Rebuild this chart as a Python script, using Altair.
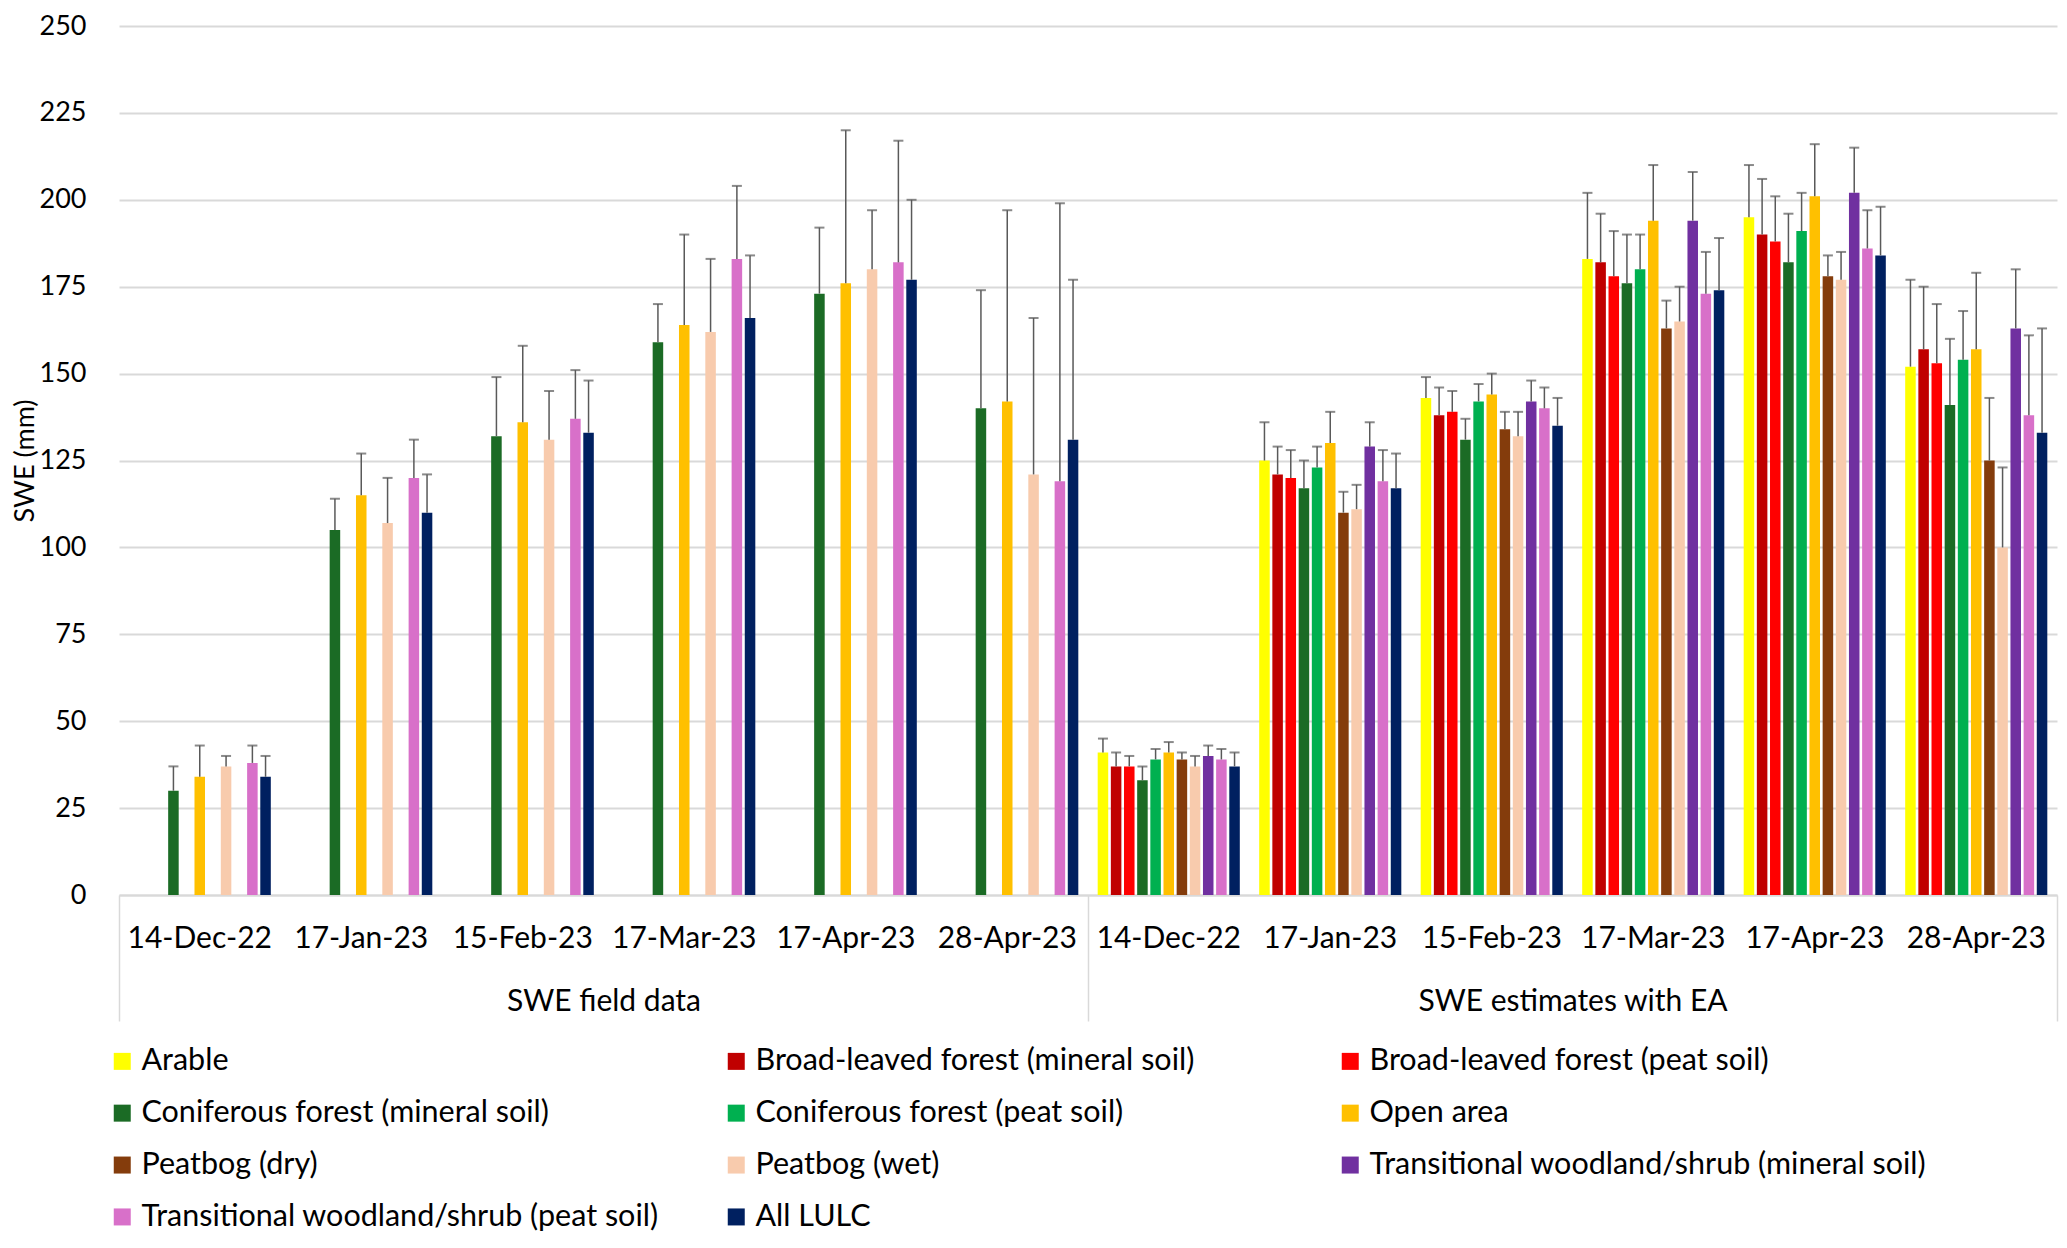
import altair as alt
import pandas as pd

# ---------------- data ----------------
dates = ["14-Dec-22", "17-Jan-23", "15-Feb-23", "17-Mar-23", "17-Apr-23", "28-Apr-23"]
sources = ["SWE field data", "SWE estimates with EA"]

series = [
    "Arable",
    "Broad-leaved forest (mineral soil)",
    "Broad-leaved forest (peat soil)",
    "Coniferous forest (mineral soil)",
    "Coniferous forest (peat soil)",
    "Open area",
    "Peatbog (dry)",
    "Peatbog (wet)",
    "Transitional woodland/shrub (mineral soil)",
    "Transitional woodland/shrub (peat soil)",
    "All LULC",
]
colors = ["#FFFF00", "#C00000", "#FF0000", "#1B6B25", "#00B050", "#FFC000",
          "#843C0C", "#F8CBAD", "#7030A0", "#D870C9", "#002060"]

# SWE field data (only five classes were sampled)
field_series = [
    "Coniferous forest (mineral soil)",
    "Open area",
    "Peatbog (wet)",
    "Transitional woodland/shrub (peat soil)",
    "All LULC",
]
field_mean = [
    [30, 105, 132, 159, 173, 140],
    [34, 115, 136, 164, 176, 142],
    [37, 107, 131, 162, 180, 121],
    [38, 120, 137, 183, 182, 119],
    [34, 110, 133, 166, 177, 131],
]
field_sd = [
    [7, 9, 17, 11, 19, 34],
    [9, 12, 22, 26, 44, 55],
    [3, 13, 14, 21, 17, 45],
    [5, 11, 14, 21, 35, 80],
    [6, 11, 15, 18, 23, 46],
]

# SWE estimates with EA (all eleven classes)
ea_mean = [
    [41, 125, 143, 183, 195, 152],
    [37, 121, 138, 182, 190, 157],
    [37, 120, 139, 178, 188, 153],
    [33, 117, 131, 176, 182, 141],
    [39, 123, 142, 180, 191, 154],
    [41, 130, 144, 194, 201, 157],
    [39, 110, 134, 163, 178, 125],
    [37, 111, 132, 165, 177, 100],
    [40, 129, 142, 194, 202, 163],
    [39, 119, 140, 173, 186, 138],
    [37, 117, 135, 174, 184, 133],
]
ea_sd = [
    [4, 11, 6, 19, 15, 25],
    [4, 8, 8, 14, 16, 18],
    [3, 8, 6, 13, 13, 17],
    [4, 8, 6, 14, 14, 19],
    [3, 6, 5, 10, 11, 14],
    [3, 9, 6, 16, 15, 22],
    [2, 6, 5, 8, 6, 18],
    [3, 7, 7, 10, 8, 23],
    [3, 7, 6, 14, 13, 17],
    [3, 9, 6, 12, 11, 23],
    [4, 10, 8, 15, 14, 30],
]

rows = []
for src, names, means, sds in [(sources[0], field_series, field_mean, field_sd),
                                (sources[1], series, ea_mean, ea_sd)]:
    for name, m_list, s_list in zip(names, means, sds):
        for d, v, e in zip(dates, m_list, s_list):
            rows.append({"source": src, "date": d, "series": name,
                         "value": v, "top": v + e, "cat": f"{src}|{d}"})
df = pd.DataFrame(rows)
cat_order = [f"{s}|{d}" for s in sources for d in dates]

# ---------------- styling ----------------
FONT = "Lato"
GRID = "#d9d9d9"
ERR = "#595959"
W, H = 1938, 869

y_axis = alt.Axis(values=list(range(0, 251, 25)), grid=True, gridColor=GRID, gridWidth=2,
                  domain=False, ticks=False, labelFont=FONT, labelFontSize=27,
                  labelColor="#000000", labelPadding=33,
                  title="SWE (mm)", titleFont=FONT, titleFontSize=27, titleFontWeight="normal",
                  titleColor="#000000", titleX=-80, titleY=H / 2, titleAngle=270,
                  titleBaseline="bottom", titleAlign="center")
y_scale = alt.Scale(domain=[0, 250], nice=False, zero=True)

x_cat = alt.X("cat:N", sort=cat_order,
              scale=alt.Scale(domain=cat_order, paddingInner=0.12, paddingOuter=0.06),
              axis=alt.Axis(orient="bottom", title=None,
                            labelExpr="split(datum.label, '|')[1]", labelAngle=0,
                            labelFont=FONT, labelFontSize=30, labelColor="#000000",
                            labelPadding=28, labelLimit=0, ticks=False, grid=False,
                            domain=True, domainColor=GRID, domainWidth=2))
x_off = alt.XOffset("series:N", scale=alt.Scale(domain=series, paddingInner=0.2, paddingOuter=0))

bars = alt.Chart(df).mark_bar().encode(
    x=x_cat,
    xOffset=x_off,
    y=alt.Y("value:Q", scale=y_scale, axis=y_axis, title="SWE (mm)"),
    color=alt.Color("series:N", scale=alt.Scale(domain=series, range=colors),
                    legend=alt.Legend(title=None, orient="none", legendX=-12, legendY=1020,
                                      columns=3, direction="horizontal",
                                      symbolType="square", symbolSize=289,
                                      symbolStrokeWidth=0, labelFont=FONT,
                                      labelFontSize=30.5, labelColor="#000000",
                                      labelLimit=0, labelOffset=4, gridAlign="all",
                                      columnPadding=22, rowPadding=20.9, padding=0)),
)

err_lines = alt.Chart(df).mark_rule(color=ERR, strokeWidth=1.5).encode(
    x=x_cat,
    xOffset=x_off,
    y=alt.Y("value:Q", scale=y_scale, axis=y_axis, title="SWE (mm)"),
    y2="top:Q",
)

err_caps = alt.Chart(df).mark_tick(color=ERR, thickness=2, size=10, orient="horizontal").encode(
    x=x_cat,
    xOffset=x_off,
    y=alt.Y("top:Q", scale=y_scale, axis=y_axis, title="SWE (mm)"),
)

inner = alt.layer(bars, err_lines, err_caps)

group_axis = alt.Chart(pd.DataFrame({"source": sources})).mark_point(opacity=0).encode(
    x=alt.X("source:N", sort=sources,
            scale=alt.Scale(domain=sources, paddingInner=0, paddingOuter=0),
            axis=alt.Axis(orient="bottom", title=None, labelAngle=0, tickBand="extent",
                          ticks=True, tickSize=126, tickColor=GRID, tickWidth=1.5,
                          domain=False, grid=False, labelFont=FONT, labelFontSize=30,
                          labelColor="#000000", labelPadding=-35, labelLimit=0)),
)

chart = alt.layer(inner, group_axis).resolve_scale(x="independent").properties(
    width=W, height=H,
    autosize=alt.AutoSizeParams(type="none"),
    padding={"left": 111, "top": 18, "right": 2, "bottom": 345},
    background="white",
).configure_view(stroke=None)

chart.save("out.html", embed_options={"renderer": "svg", "actions": False})
